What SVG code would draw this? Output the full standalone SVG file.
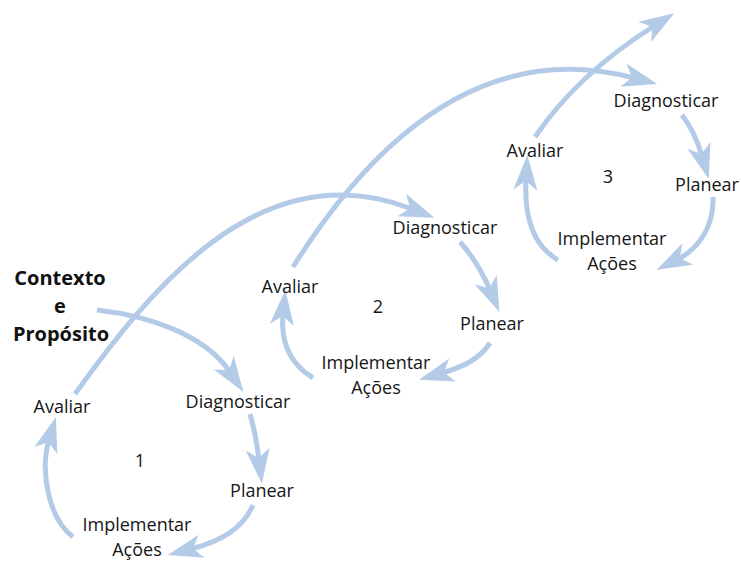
<svg xmlns="http://www.w3.org/2000/svg" width="741" height="561" viewBox="0 0 741 561">
<defs>
<marker id="ah" markerUnits="userSpaceOnUse" viewBox="-36 -13 38 26" refX="-24" refY="0" markerWidth="38" markerHeight="26" orient="auto">
<path d="M0,0 L-35,-12 L-26,0 L-35,12 Z" fill="#b4cbe8"/>
</marker>
</defs>
<style>
.c{fill:none;stroke:#b4cbe8;stroke-width:5;marker-end:url(#ah)}
.t{font-family:"Open Sans","Liberation Sans",sans-serif;font-size:18px;fill:#161616;text-anchor:middle}
.b{font-family:"Open Sans","Liberation Sans",sans-serif;font-size:20px;font-weight:bold;fill:#111;text-anchor:middle}
</style>
<rect width="741" height="561" fill="#fff"/>
<g id="connectors">
<path class="c" d="M97,310 C150,316 205,335 230,372"/>
<path class="c" d="M250,414 Q256,435 259,460"/>
<path class="c" d="M253,505 C243,528 222,541 191,549"/>
<path class="c" d="M73,537 C48,518 40,470 49,440"/>
<path class="c" d="M75,394 C150,290 260,150 412,209"/>
<path class="c" d="M460,242 Q478,262 490,290"/>
<path class="c" d="M490,343 C480,358 466,366 442,373"/>
<path class="c" d="M313,378 C292,365 280,345 283,314"/>
<path class="c" d="M293,267 C360,160 470,35 634,78"/>
<path class="c" d="M682,115 Q695,132 702,156"/>
<path class="c" d="M713,197 C714,225 700,248 678,259"/>
<path class="c" d="M558,260 C532,245 524,215 526,179"/>
<path class="c" d="M535,137 C560,100 600,60 654,26"/>
</g>
<g id="contexto"><text class="b" x="60" y="285">Contexto</text><text class="b" x="60" y="313">e</text><text class="b" x="61" y="341">Propósito</text></g>
<g id="c1-avaliar"><text class="t" x="62" y="413">Avaliar</text></g>
<g id="c1-diagnosticar"><text class="t" x="238" y="408">Diagnosticar</text></g>
<g id="c1-num"><text class="t" x="140" y="467">1</text></g>
<g id="c1-planear"><text class="t" x="262" y="497">Planear</text></g>
<g id="c1-implementar"><text class="t" x="137" y="531">Implementar</text><text class="t" x="137" y="556">Ações</text></g>
<g id="c2-avaliar"><text class="t" x="290" y="293">Avaliar</text></g>
<g id="c2-diagnosticar"><text class="t" x="445" y="234">Diagnosticar</text></g>
<g id="c2-num"><text class="t" x="378" y="313">2</text></g>
<g id="c2-planear"><text class="t" x="492" y="330">Planear</text></g>
<g id="c2-implementar"><text class="t" x="376" y="369">Implementar</text><text class="t" x="376" y="394">Ações</text></g>
<g id="c3-avaliar"><text class="t" x="535" y="157">Avaliar</text></g>
<g id="c3-diagnosticar"><text class="t" x="666" y="107">Diagnosticar</text></g>
<g id="c3-num"><text class="t" x="608" y="183">3</text></g>
<g id="c3-planear"><text class="t" x="707" y="191">Planear</text></g>
<g id="c3-implementar"><text class="t" x="612" y="245">Implementar</text><text class="t" x="612" y="270">Ações</text></g>
</svg>
